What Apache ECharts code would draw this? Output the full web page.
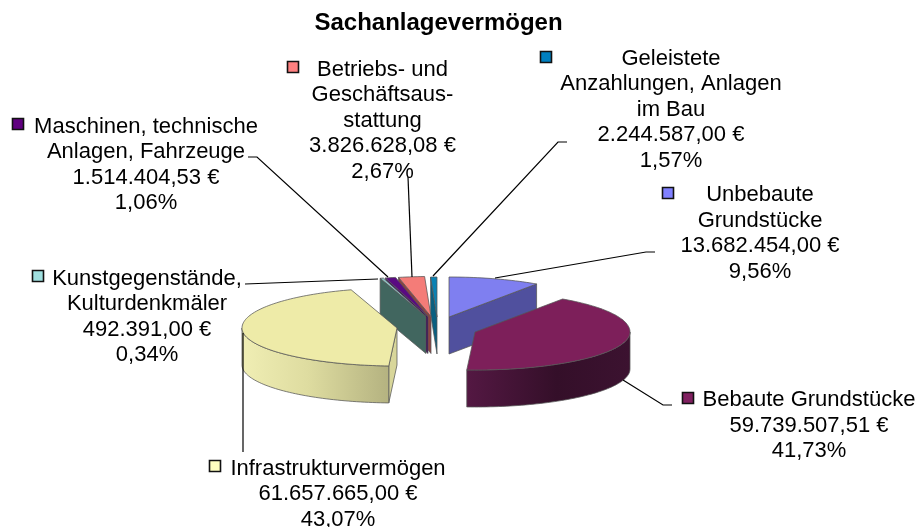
<!DOCTYPE html>
<html><head><meta charset="utf-8">
<style>html,body{margin:0;padding:0;background:#fff}#c{width:918px;height:527px}</style>
<script src="https://cdn.jsdelivr.net/npm/echarts@6/dist/echarts.min.js"></script>
</head><body><div id="c"></div>
<script>
const titleText = 'Sachanlagevermögen';
const categories = ['Unbebaute\nGrundstücke','Bebaute Grundstücke','Infrastrukturvermögen','Kunstgegenstände,\nKulturdenkmäler','Maschinen, technische\nAnlagen, Fahrzeuge','Betriebs- und\nGeschäftsaus-\nstattung','Geleistete\nAnzahlungen, Anlagen\nim Bau'];
const values = [13682454.00, 59739507.51, 61657665.00, 492391.00, 1514404.53, 3826628.08, 2244587.00];
const amountLabels = ['13.682.454,00 €','59.739.507,51 €','61.657.665,00 €','492.391,00 €','1.514.404,53 €','3.826.628,08 €','2.244.587,00 €'];
const percentLabels = ['9,56%','41,73%','43,07%','0,34%','1,06%','2,67%','1,57%'];

// Styles and layout
const topColors  = ['#7f7ff0','#7d1f5a','#eeeba8','#8fc4c4','#5a0a82','#f47c78','#0a82b4'];
const keyColors  = ['#8080ff','#802060','#ffffc0','#a0e0e0','#600080','#ff8080','#0080c0'];
const wallColors = ['#50509e','#4a1440','#d8d69a','#41665f','#3c0858','#8c4242','#0a5f80'];
const wallGrad   = [null,[['0','#541843'],['0.55','#340f29'],['1','#3c1230']],[['0','#f0eeb4'],['0.45','#dedca0'],['1','#b4b280']],null,null,null,null];
const apex = [[449,317],[475,332],[397,328],[426,316.5],[428,316.5],[431,316.5],[437,317]];
const zOrder = [20,70,60,50,40,30,10];
const labelPos = [
  {cx:760,y:195,kx:668,ky:193},
  {cx:809,y:400,kx:688,ky:398},
  {cx:338,y:468.5,kx:215,ky:466},
  {cx:147,y:278.5,kx:38,ky:276},
  {cx:146,y:126.5,kx:18,ky:124},
  {cx:382.5,y:69.5,kx:293,ky:67},
  {cx:671,y:58.5,kx:546,ky:57}
];
const leaders = [
  [[655,252],[646,252],[495,278]],
  [[672,405],[663,405],[623,380]],
  [[243,333],[243,452]],
  [[245,284],[378,279]],
  [[248,157],[257,157],[388,277]],
  [[408,177],[412,277]],
  [[567,142],[558,142],[433,276]]
];
const RX = 155, RY_BACK = 40, RY_FRONT = 38, DEPTH = 37, FONT = 22, STEP = 25.6;
const total = values.reduce((a,b)=>a+b,0);
const starts = []; values.reduce((a,v,i)=>{starts[i]=a/total*360;return a+v;},0);

function proj(ap, deg){
  let d = deg;
  if (deg>270 && deg<=360){ const del=360-deg; const w=Math.max(0,del-3.3*Math.cos(del*Math.PI/180)); d=360-w; }
  else if (deg>180 && deg<270){ const del=deg-180; const w=Math.max(0,del-1.6*Math.cos(del*Math.PI/180)); d=180+w; }
  const r=d*Math.PI/180, c=Math.cos(r);
  return [ap[0]+RX*Math.sin(r), ap[1]-(c>0?RY_BACK:RY_FRONT)*c];
}
function arc(ap,a,b){ const p=[]; const n=Math.max(1,Math.ceil((b-a)/1.5)); for(let i=0;i<=n;i++)p.push(proj(ap,a+(b-a)*i/n)); return p; }
const dn = p=>[p[0],p[1]+DEPTH];
const EDGE='rgba(85,85,85,0.75)';

function renderItem(params, api){
  const i=params.dataIndex;
  const sh=api.value(0)/total*360, a=starts[i], b=a+sh, ap=apex[i], z=zOrder[i], kids=[];
  const poly=(pts,fill,zz,stroke)=>kids.push({type:'polygon',shape:{points:pts},z2:zz,style:{fill:fill,stroke:stroke||EDGE,lineWidth:1,lineJoin:'round'}});
  const face=(deg)=>{const o=proj(ap,deg);poly([ap,o,dn(o),dn(ap)],wallColors[i],z);};
  const sa=Math.sin(a*Math.PI/180), sb=Math.sin(b*Math.PI/180);
  if(sb>0.001) face(b);
  if(sa<-0.001) face(a);
  const fa=Math.max(a,90), fb=Math.min(b,270);
  if(fb>fa){
    const top=arc(ap,fa,fb);
    const fill=wallGrad[i]?new echarts.graphic.LinearGradient(0,0,1,0,wallGrad[i].map(s=>({offset:+s[0],color:s[1]}))):wallColors[i];
    poly(top.concat(top.map(dn).reverse()),fill,z+1);
  }
  poly([ap].concat(arc(ap,a,b)),topColors[i],z+2);
  kids.push({type:'polyline',shape:{points:leaders[i]},z2:100,style:{fill:null,stroke:'#000',lineWidth:1.2}});
  const lp=labelPos[i];
  kids.push({type:'rect',shape:{x:lp.kx-5.5,y:lp.ky-5.5,width:11,height:11},z2:100,style:{fill:keyColors[i],stroke:'#111',lineWidth:1.6}});
  const lines=categories[i].split('\n').concat([amountLabels[i],percentLabels[i]]);
  lines.forEach((t,k)=>kids.push({type:'text',z2:101,style:{text:t,x:lp.cx,y:lp.y+k*STEP,align:'center',verticalAlign:'middle',fill:'#000',font:FONT+'px "Liberation Sans", Arial, sans-serif'}}));
  return {type:'group',children:kids};
}
const chart=echarts.init(document.getElementById('c'),null,{renderer:'canvas'});
chart.setOption({
  animation:false,
  backgroundColor:'#fff',
  title:{text:titleText,left:433.5,top:18,textAlign:'center',textVerticalAlign:'middle',textStyle:{color:'#000',fontWeight:'bold',fontSize:24,fontFamily:'"Liberation Sans", Arial, sans-serif'}},
  series:[{type:'custom',coordinateSystem:'none',silent:true,renderItem:renderItem,data:values.map(v=>[v])}]
});
</script></body></html>
